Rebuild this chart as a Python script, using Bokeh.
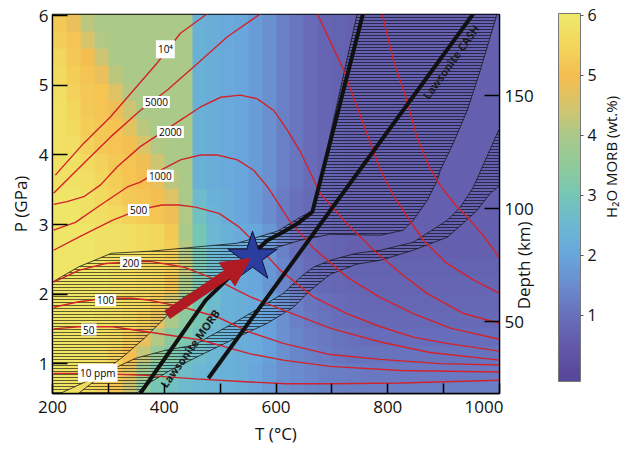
import numpy as np
from bokeh.plotting import figure
from bokeh.layouts import row
from bokeh.models import (Range1d, LinearAxis, FixedTicker, LinearColorMapper, ColorBar,
                          Arrow, NormalHead)
from bokeh.core.properties import value
from bokeh.embed import file_html
from bokeh.resources import INLINE

# ---------------- data ----------------
T_RANGE = (200, 1000)
P_RANGE = (0.57, 6.02)
DEPTH_RANGE = (18.3, 186.0)
T_TICKS = [200, 300, 400, 500, 600, 700, 800, 900, 1000]
T_LABELLED = [200, 400, 600, 800, 1000]
P_TICKS = [1, 2, 3, 4, 5, 6]
DEPTH_TICKS = [50, 100, 150]
DEPTH_TICK_LABELS = ["50", "100", "150"]
CB_TICKS = [1, 2, 3, 4, 5, 6]
CB_RANGE = (-0.1, 6.03)

# H2O content of MORB (wt.%): rows = 0.25 GPa bands from 0.5 GPa upward,
# columns = 25 degC bands from 200 degC to 1000 degC
h2o_p0_625 = [5.9, 5.8, 5.6, 5.4, 5.1, 4.4, 3.4, 3.0, 2.8, 2.6, 2.5, 2.4, 2.3, 2.2, 2.0, 1.8,
              1.6, 1.5, 1.4, 1.35, 1.3, 1.25, 1.25, 1.25, 1.25, 1.25, 1.25, 1.25, 1.25, 1.25, 1.25, 1.25]
h2o_p0_875 = [5.9, 5.8, 5.7, 5.5, 5.2, 4.7, 3.8, 3.2, 2.9, 2.7, 2.5, 2.4, 2.3, 2.2, 2.0, 1.8,
              1.6, 1.5, 1.4, 1.3, 1.25, 1.2, 1.15, 1.15, 1.15, 1.15, 1.15, 1.15, 1.15, 1.15, 1.15, 1.15]
h2o_p1_125 = [5.9, 5.9, 5.8, 5.7, 5.4, 5.0, 4.3, 3.6, 3.2, 2.9, 2.7, 2.5, 2.3, 2.2, 2.1, 1.9,
              1.6, 1.4, 1.3, 1.2, 1.1, 1.05, 1.05, 1.05, 1.05, 1.05, 1.05, 1.05, 1.05, 1.05, 1.05, 1.05]
h2o_p1_375 = [5.9, 5.9, 5.8, 5.7, 5.6, 5.3, 4.8, 4.1, 3.4, 3.1, 2.8, 2.5, 2.3, 2.2, 2.1, 1.9,
              1.6, 1.4, 1.25, 1.15, 1.05, 1.0, 0.95, 0.95, 0.95, 0.95, 0.95, 0.95, 0.95, 0.95, 0.95, 0.95]
h2o_p1_625 = [5.9, 5.9, 5.9, 5.8, 5.7, 5.6, 5.3, 4.8, 4.0, 3.4, 3.0, 2.6, 2.3, 2.2, 2.1, 1.9,
              1.6, 1.3, 1.15, 1.05, 0.95, 0.9, 0.85, 0.85, 0.85, 0.85, 0.85, 0.85, 0.85, 0.85, 0.85, 0.85]
h2o_p1_875 = [5.9, 5.9, 5.9, 5.8, 5.7, 5.6, 5.5, 5.2, 4.5, 3.7, 3.0, 2.6, 2.3, 2.2, 2.1, 1.9,
              1.6, 1.3, 1.1, 1.0, 0.9, 0.85, 0.8, 0.8, 0.8, 0.8, 0.8, 0.8, 0.8, 0.8, 0.8, 0.8]
h2o_p2_125 = [5.9, 5.9, 5.9, 5.9, 5.8, 5.7, 5.6, 5.5, 5.1, 4.0, 3.1, 2.6, 2.3, 2.1, 2.0, 1.7,
              1.4, 1.1, 0.95, 0.85, 0.8, 0.75, 0.75, 0.75, 0.75, 0.75, 0.75, 0.75, 0.75, 0.75, 0.75, 0.75]
h2o_p2_375 = [5.9, 5.9, 5.9, 5.9, 5.8, 5.7, 5.6, 5.5, 5.3, 4.3, 3.1, 2.6, 2.3, 2.1, 2.0, 1.7,
              1.4, 1.1, 0.9, 0.8, 0.75, 0.7, 0.7, 0.7, 0.7, 0.7, 0.7, 0.7, 0.7, 0.7, 0.7, 0.7]
h2o_p2_625 = [5.9, 5.9, 5.9, 5.8, 5.8, 5.7, 5.6, 5.5, 5.3, 4.1, 3.0, 2.5, 2.3, 2.1, 2.0, 1.7,
              1.3, 1.0, 0.85, 0.75, 0.7, 0.65, 0.65, 0.65, 0.65, 0.65, 0.65, 0.65, 0.65, 0.65, 0.65, 0.65]
h2o_p2_875 = [5.9, 5.9, 5.9, 5.8, 5.8, 5.7, 5.6, 5.5, 5.2, 4.0, 3.0, 2.5, 2.3, 2.1, 2.0, 1.7,
              1.3, 1.0, 0.85, 0.75, 0.7, 0.65, 0.65, 0.65, 0.65, 0.65, 0.65, 0.65, 0.65, 0.65, 0.65, 0.65]
h2o_p3_125 = [5.9, 5.9, 5.8, 5.7, 5.6, 5.4, 5.3, 5.1, 4.9, 4.1, 2.8, 2.4, 2.2, 2.0, 1.8, 1.5,
              1.2, 1.0, 0.85, 0.75, 0.7, 0.65, 0.65, 0.65, 0.65, 0.65, 0.65, 0.65, 0.65, 0.65, 0.65, 0.65]
h2o_p3_375 = [5.9, 5.9, 5.8, 5.6, 5.4, 5.2, 5.1, 5.0, 4.6, 4.0, 2.6, 2.3, 2.2, 2.0, 1.8, 1.5,
              1.2, 1.0, 0.85, 0.75, 0.7, 0.65, 0.65, 0.65, 0.65, 0.65, 0.65, 0.65, 0.65, 0.65, 0.65, 0.65]
h2o_p3_625 = [5.8, 5.8, 5.7, 5.5, 5.3, 5.1, 5.0, 4.8, 4.2, 4.0, 2.3, 2.2, 2.1, 2.0, 1.8, 1.6,
              1.3, 1.1, 0.9, 0.75, 0.7, 0.65, 0.65, 0.65, 0.65, 0.65, 0.65, 0.65, 0.65, 0.65, 0.65, 0.65]
h2o_p3_875 = [5.8, 5.8, 5.6, 5.4, 5.2, 5.1, 4.9, 4.4, 4.0, 4.0, 2.3, 2.2, 2.1, 2.0, 1.8, 1.6,
              1.3, 1.1, 0.9, 0.75, 0.7, 0.65, 0.65, 0.65, 0.65, 0.65, 0.65, 0.65, 0.65, 0.65, 0.65, 0.65]
h2o_p4_125 = [5.8, 5.7, 5.4, 5.2, 5.1, 5.0, 4.5, 4.1, 4.0, 4.0, 2.3, 2.2, 2.1, 2.0, 1.8, 1.6,
              1.3, 1.1, 0.9, 0.75, 0.7, 0.65, 0.65, 0.65, 0.65, 0.65, 0.65, 0.65, 0.65, 0.65, 0.65, 0.65]
h2o_p4_375 = [5.8, 5.6, 5.3, 5.2, 5.1, 4.7, 4.2, 4.0, 4.0, 4.0, 2.3, 2.2, 2.1, 2.0, 1.8, 1.6,
              1.3, 1.1, 0.9, 0.75, 0.7, 0.65, 0.65, 0.65, 0.65, 0.65, 0.65, 0.65, 0.65, 0.65, 0.65, 0.65]
h2o_p4_625 = [5.8, 5.5, 5.2, 5.1, 4.9, 4.4, 4.0, 4.0, 4.0, 4.0, 2.3, 2.2, 2.1, 2.0, 1.8, 1.6,
              1.3, 1.1, 0.9, 0.75, 0.7, 0.65, 0.65, 0.65, 0.65, 0.65, 0.65, 0.65, 0.65, 0.65, 0.65, 0.65]
h2o_p4_875 = [5.7, 5.4, 5.2, 5.1, 4.6, 4.1, 4.0, 4.0, 4.0, 4.0, 2.3, 2.2, 2.1, 2.0, 1.8, 1.6,
              1.3, 1.1, 0.9, 0.75, 0.7, 0.65, 0.65, 0.65, 0.65, 0.65, 0.65, 0.65, 0.65, 0.65, 0.65, 0.65]
h2o_p5_125 = [5.6, 5.3, 5.1, 4.8, 4.2, 4.0, 4.0, 4.0, 4.0, 4.0, 2.3, 2.2, 2.1, 2.0, 1.8, 1.6,
              1.3, 1.1, 0.9, 0.75, 0.7, 0.65, 0.65, 0.65, 0.65, 0.65, 0.65, 0.65, 0.65, 0.65, 0.65, 0.65]
h2o_p5_375 = [5.5, 5.2, 5.0, 4.4, 4.0, 4.0, 4.0, 4.0, 4.0, 4.0, 2.3, 2.2, 2.1, 2.0, 1.8, 1.6,
              1.3, 1.1, 0.9, 0.75, 0.7, 0.65, 0.65, 0.65, 0.65, 0.65, 0.65, 0.65, 0.65, 0.65, 0.65, 0.65]
h2o_p5_625 = [5.3, 5.1, 4.5, 4.1, 4.0, 4.0, 4.0, 4.0, 4.0, 4.0, 2.3, 2.2, 2.1, 2.0, 1.8, 1.6,
              1.3, 1.1, 0.9, 0.75, 0.7, 0.65, 0.65, 0.65, 0.65, 0.65, 0.65, 0.65, 0.65, 0.65, 0.65, 0.65]
h2o_p5_875 = [5.2, 4.8, 4.2, 4.0, 4.0, 4.0, 4.0, 4.0, 4.0, 4.0, 2.3, 2.2, 2.1, 2.0, 1.8, 1.6,
              1.3, 1.1, 0.9, 0.75, 0.7, 0.65, 0.65, 0.65, 0.65, 0.65, 0.65, 0.65, 0.65, 0.65, 0.65, 0.65]
GRID_T0, GRID_T1 = 200, 1000
GRID_P0, GRID_P1 = 0.5, 6.02

# water solubility contours (ppm); lines leaving through the top are split in two parts
c1e4_T_a = [205, 256, 304, 345, 387, 429, 477]
c1e4_P_a = [3.71, 4.17, 4.55, 4.93, 5.32, 5.75, 6.03]
c1e4_T_b = [790, 810, 834, 852, 873, 894, 921, 942, 971, 1000]
c1e4_P_b = [6.03, 5.36, 4.79, 4.26, 3.85, 3.56, 3.28, 3.11, 2.84, 2.52]
c5000_T_a = [202, 256, 304, 357, 405, 453, 513, 572]
c5000_P_a = [3.45, 3.88, 4.26, 4.64, 4.93, 5.27, 5.70, 6.03]
c5000_T_b = [674, 721, 745, 769, 787, 811, 835, 864, 906, 954, 1000]
c5000_P_b = [6.03, 5.22, 4.69, 4.17, 3.78, 3.40, 3.11, 2.77, 2.44, 2.20, 2.01]
c2000_T = [202, 226, 256, 286, 316, 357, 393, 429, 465, 501, 536, 566, 596, 620, 644, 679, 727, 775, 823, 870, 936, 1000]
c2000_P = [3.29, 3.33, 3.40, 3.57, 3.83, 4.12, 4.31, 4.50, 4.69, 4.83, 4.86, 4.81, 4.64, 4.36, 4.04, 3.45, 3.01, 2.63, 2.30, 2.01, 1.72, 1.58]
c1000_T = [202, 241, 286, 334, 357, 393, 429, 465, 495, 531, 560, 585, 603, 626, 667, 728, 787, 846, 912, 1000]
c1000_P = [2.92, 3.03, 3.28, 3.54, 3.61, 3.78, 3.93, 4.00, 4.00, 3.93, 3.78, 3.54, 3.32, 3.03, 2.66, 2.24, 1.95, 1.72, 1.51, 1.35]
c500_T = [202, 247, 307, 354, 396, 426, 456, 498, 533, 569, 608, 667, 727, 787, 846, 906, 1000]
c500_P = [2.63, 2.82, 3.06, 3.21, 3.28, 3.28, 3.25, 3.16, 2.97, 2.68, 2.34, 1.96, 1.72, 1.53, 1.38, 1.29, 1.18]
c200_T = [202, 247, 295, 336, 375, 434, 495, 554, 613, 697, 787, 876, 1000]
c200_P = [2.17, 2.34, 2.44, 2.46, 2.47, 2.39, 2.20, 1.96, 1.77, 1.51, 1.31, 1.16, 1.05]
c100_T = [202, 247, 295, 343, 375, 434, 495, 554, 613, 697, 787, 894, 1000]
c100_P = [1.81, 1.89, 1.94, 1.94, 1.91, 1.81, 1.67, 1.45, 1.29, 1.13, 1.06, 1.00, 0.98]
c50_T = [202, 247, 307, 375, 465, 554, 613, 697, 823, 1000]
c50_P = [1.50, 1.53, 1.53, 1.45, 1.34, 1.14, 1.05, 0.96, 0.90, 0.88]
c10_T = [202, 277, 366, 456, 545, 617, 697, 823, 1000]
c10_P = [0.86, 0.86, 0.83, 0.78, 0.74, 0.71, 0.71, 0.72, 0.76]

contour_label_text = ["10\u2074", "5000", "2000", "1000", "500", "200", "100", "50", "10 ppm"]
contour_label_T = [402, 386, 411, 393, 354, 340, 295, 265, 281]
contour_label_P = [5.52, 4.76, 4.33, 3.70, 3.21, 2.45, 1.91, 1.49, 0.87]

# lawsonite-out reactions
law_morb_T = [357, 474, 584, 608, 638, 665, 756]
law_morb_P = [0.57, 1.91, 2.77, 2.87, 3.01, 3.18, 6.04]
law_cash_T = [479, 953]
law_cash_P = [0.79, 6.03]
law_labels = ["Lawsonite MORB", "Lawsonite CASH"]
law_label_T = [446, 913]
law_label_P = [1.22, 5.34]

# hatched uncertainty fields
bandA_T = [200, 246.5, 305.5, 375.3, 452.2, 531.0, 602.5, 643.6, 666.9, 745.6, 996.1,
           965.7, 942.4, 917.4, 894.1, 888.7, 870.8, 845.8, 827.9, 786.8, 697.3, 643.6,
           584.6, 541.7, 495.2, 434.3, 402.1, 366.4, 325.2, 276.9, 210.7, 200]
bandA_P = [2.174, 2.390, 2.587, 2.616, 2.673, 2.731, 2.904, 3.105, 3.206, 6.04, 6.04,
           5.220, 4.644, 4.170, 3.781, 3.637, 3.350, 3.062, 2.918, 2.846, 2.860, 2.774,
           2.630, 2.386, 2.199, 1.954, 1.666, 1.379, 1.091, 0.803, 0.56, 0.56]
bandB_T = [244.7, 294.8, 348.5, 402.1, 452.2, 523.8, 572.1, 613.2, 643.6, 666.9, 697.3,
           743.8, 786.8, 845.8, 906.6, 929.9, 953.1, 996.1, 1001.4,
           1001.4, 983.5, 960.3, 935.2, 906.6, 845.8, 786.8, 743.8, 697.3, 661.5, 631.1,
           584.6, 530.9, 464.8, 411.1, 375.3, 348.5]
bandB_P = [0.56, 0.872, 1.076, 1.191, 1.263, 1.580, 1.810, 2.012, 2.242, 2.386, 2.486,
           2.587, 2.630, 2.745, 3.062, 3.249, 3.537, 4.314, 4.40,
           3.565, 3.450, 3.206, 3.019, 2.818, 2.630, 2.486, 2.429, 2.285, 2.055, 1.810,
           1.580, 1.379, 1.120, 0.904, 0.732, 0.56]

# P-T path arrow and star
arrow_T = [405, 554]
arrow_P = [1.70, 2.51]
star_T = [558]
star_P = [2.53]

# ---------------- style ----------------
FONT = "Open Sans"
RED = "#d2232a"
ARROW_RED = "#b01a22"
INK = "#111111"
anchors = [(0.0, (88, 72, 155)), (0.5, (98, 90, 170)), (1.0, (104, 112, 188)),
           (1.5, (106, 140, 206)), (2.0, (104, 166, 220)), (2.5, (108, 184, 212)),
           (3.0, (118, 198, 182)), (3.5, (145, 202, 155)), (4.0, (170, 201, 138)),
           (4.5, (214, 196, 108)), (5.0, (245, 190, 80)), (5.5, (243, 214, 92)),
           (6.0, (238, 232, 106))]


def make_palette(n, lo, hi):
    av = [a[0] for a in anchors]
    out = []
    for v in np.linspace(lo, hi, n):
        rgb = [int(round(np.interp(v, av, [a[1][k] for a in anchors]))) for k in range(3)]
        out.append("#%02x%02x%02x" % tuple(rgb))
    return out


palette = make_palette(256, *CB_RANGE)
mapper = LinearColorMapper(palette=palette, low=CB_RANGE[0], high=CB_RANGE[1])

H = 453
TOP, BOTTOM = 14, 60
LEFT, FRAME_W, RIGHT1 = 52, 447, 4
W1 = LEFT + FRAME_W + RIGHT1
W2 = 624 - W1

p = figure(width=W1, height=H, x_range=Range1d(*T_RANGE), y_range=Range1d(*P_RANGE),
           output_backend="svg", toolbar_location=None,
           min_border_left=LEFT, min_border_right=RIGHT1, min_border_top=TOP,
           min_border_bottom=BOTTOM)
p.extra_y_ranges = {"depth": Range1d(*DEPTH_RANGE)}
p.grid.visible = False
p.outline_line_color = "black"
p.outline_line_width = 1.3
p.background_fill_color = "white"
p.border_fill_color = "white"

grid = np.array([h2o_p0_625, h2o_p0_875, h2o_p1_125, h2o_p1_375, h2o_p1_625, h2o_p1_875,
                 h2o_p2_125, h2o_p2_375, h2o_p2_625, h2o_p2_875, h2o_p3_125, h2o_p3_375,
                 h2o_p3_625, h2o_p3_875, h2o_p4_125, h2o_p4_375, h2o_p4_625, h2o_p4_875,
                 h2o_p5_125, h2o_p5_375, h2o_p5_625, h2o_p5_875], dtype=float)
p.image(image=[grid], x=GRID_T0, y=GRID_P0, dw=GRID_T1 - GRID_T0, dh=GRID_P1 - GRID_P0,
        color_mapper=mapper)

for bt, bp in [(bandA_T, bandA_P), (bandB_T, bandB_P)]:
    p.patch(bt, bp, fill_alpha=0, line_color="#1a1a1a", line_width=0.8,
            hatch_pattern="horizontal_line", hatch_scale=3, hatch_weight=0.7,
            hatch_color="black", hatch_alpha=0.85)

xs = [c1e4_T_a, c1e4_T_b, c5000_T_a, c5000_T_b, c2000_T, c1000_T, c500_T, c200_T, c100_T, c50_T, c10_T]
ys = [c1e4_P_a, c1e4_P_b, c5000_P_a, c5000_P_b, c2000_P, c1000_P, c500_P, c200_P, c100_P, c50_P, c10_P]
p.multi_line(xs, ys, line_color=RED, line_width=1.4)

p.line(law_morb_T, law_morb_P, line_color=INK, line_width=4)
p.line(law_cash_T, law_cash_P, line_color=INK, line_width=4)

p.text(x=contour_label_T, y=contour_label_P, text=contour_label_text,
       text_font=value(FONT), text_font_size="10px", text_align="center",
       text_baseline="middle", text_color="black",
       background_fill_color="white", padding=2)

p.text(x=law_label_T, y=law_label_P, text=law_labels, angle=0.95,
       text_font=value(FONT), text_font_size="11px", text_font_style="bold",
       text_align="center", text_baseline="middle", text_color="#1c1c1c")

p.scatter(x=star_T, y=star_P, marker="star", size=52, fill_color="#2b3d9e",
          line_color="#111133", line_width=1)
p.add_layout(Arrow(end=NormalHead(size=28, fill_color=ARROW_RED, line_color=ARROW_RED),
                   x_start=arrow_T[0], y_start=arrow_P[0], x_end=arrow_T[1], y_end=arrow_P[1],
                   line_color=ARROW_RED, line_width=10))

# axes
p.xaxis.ticker = FixedTicker(ticks=T_TICKS)
p.xaxis.major_label_overrides = {t: "" for t in T_TICKS if t not in T_LABELLED}
p.xaxis.axis_label = "T (\u00b0C)"
p.yaxis.ticker = FixedTicker(ticks=P_TICKS)
p.yaxis.axis_label = "P (GPa)"

dax = LinearAxis(y_range_name="depth", ticker=FixedTicker(ticks=DEPTH_TICKS))
dax.major_label_overrides = {d: "" for d in DEPTH_TICKS}
p.add_layout(dax, "right")

for ax in [p.xaxis[0], p.yaxis[0], dax]:
    ax.axis_line_color = "black"
    ax.axis_line_width = 1.3
    ax.major_tick_line_color = "black"
    ax.major_tick_line_width = 1.5
    ax.major_tick_out = 0
    ax.minor_tick_line_color = None
    ax.major_label_text_font = FONT
    ax.major_label_text_font_size = "17px"
    ax.major_label_text_color = INK
    ax.axis_label_text_font = FONT
    ax.axis_label_text_font_size = "17px"
    ax.axis_label_text_font_style = "normal"
    ax.axis_label_text_color = INK

p.xaxis.major_tick_in = 10
p.xaxis.major_label_standoff = 7
p.xaxis.axis_label_standoff = 6
p.yaxis.major_tick_in = 15
p.yaxis.major_label_standoff = 4
p.yaxis.axis_label_standoff = 4
dax.major_tick_in = 15
dax.major_label_standoff = 0

# ---- right-hand strip: depth labels and colour bar ----
q = figure(width=W2, height=H, x_range=Range1d(0, W2), y_range=Range1d(*DEPTH_RANGE),
           output_backend="svg", toolbar_location=None,
           x_axis_location=None, y_axis_location=None,
           min_border_left=0, min_border_right=0, min_border_top=TOP, min_border_bottom=BOTTOM)
q.grid.visible = False
q.outline_line_color = None
q.background_fill_color = "white"
q.border_fill_color = "white"

q.text(x=[1] * len(DEPTH_TICKS), y=DEPTH_TICKS, text=DEPTH_TICK_LABELS,
       text_font=value(FONT), text_font_size="17px", text_align="left",
       text_baseline="middle", text_color=INK)
q.text(x=[20], y=[75], text=["Depth (km)"], angle=np.pi / 2,
       text_font=value(FONT), text_font_size="17px", text_align="center",
       text_baseline="middle", text_color=INK)
q.text(x=[107], y=[123], text=["H\u2082O MORB (wt.%)"], angle=np.pi / 2,
       text_font=value(FONT), text_font_size="15px", text_align="center",
       text_baseline="middle", text_color=INK)

cb = ColorBar(color_mapper=mapper, ticker=FixedTicker(ticks=CB_TICKS), width=22, height=368,
              location=(55, 12), margin=0, padding=0,
              bar_line_color="#777777", bar_line_width=1,
              major_tick_in=0, major_tick_out=3, major_tick_line_color="#555555",
              major_label_text_font=FONT, major_label_text_font_size="16px",
              major_label_text_color=INK, label_standoff=4,
              background_fill_alpha=0, border_line_color=None)
q.add_layout(cb, "center")

open("out.html", "w").write(file_html(row(p, q), INLINE))
